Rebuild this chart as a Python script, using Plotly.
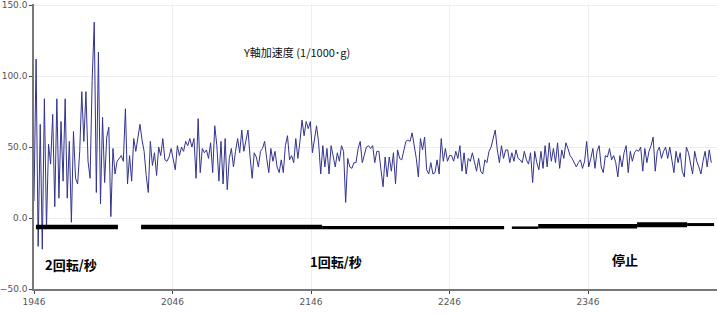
import numpy as np
import plotly.graph_objects as go

# ---- data -------------------------------------------------------------
X_START = 1946
X_STEP = 1.5

seg1 = [12, 112, -20, 66, -22, 84, -7, 52, 38, 73, 8, 84, 14, 68, 26, 84, 14, 54, -3, 61,
        28, 24, 47, 89, 54, 89, 40, 28, 97, 138, 18, 117, 10, 71, 25, 57, 64, 1, 49, 31,
        40, 42, 44, 40, 77, 24, 44, 26, 56, 47, 56, 66, 55, 47, 30, 18]
seg2 = [54, 37, 46, 30, 50, 44, 56, 41, 40, 43, 49, 42, 34, 51, 44, 50, 47, 54, 51, 56,
        50, 56, 28, 70, 32, 49, 46, 48, 42, 53, 32, 65, 51, 26, 54, 24, 56, 20, 42, 49,
        36, 47, 56, 46, 62, 47, 55, 62, 43, 28, 46, 43, 36, 47, 49]
seg3 = [54, 42, 32, 49, 40, 47, 36, 32, 41, 32, 51, 58, 41, 44, 39, 56, 42, 54, 69, 58,
        68, 63, 68, 46, 56, 65, 53, 31, 51, 36, 49, 31, 51, 42, 36, 46, 40, 51, 47, 11,
        42, 36, 35, 39, 39, 49, 54, 39, 44, 50, 51, 49, 51, 39, 47]
seg4 = [47, 34, 22, 43, 29, 43, 33, 46, 24, 48, 42, 41, 47, 54, 55, 54, 60, 51, 42, 29,
        56, 48, 57, 34, 31, 39, 31, 32, 41, 31, 56, 40, 49, 40, 44, 44, 40, 47, 42, 51,
        33, 46, 31, 42, 40, 46, 39, 33, 42, 33, 31, 41, 39, 47, 50]
seg5 = [56, 62, 48, 39, 51, 42, 48, 48, 39, 46, 40, 48, 42, 41, 39, 47, 41, 38, 46, 25,
        47, 39, 34, 47, 35, 51, 36, 53, 40, 49, 39, 53, 35, 48, 42, 53, 49, 44, 42, 39,
        36, 39, 41, 35, 40, 54, 36, 42, 49, 35, 47, 51, 36, 32, 44]
seg6 = [43, 49, 41, 44, 39, 29, 44, 36, 46, 51, 32, 47, 40, 46, 48, 47, 50, 33, 49, 39,
        47, 51, 57, 33, 47, 50, 42, 47, 50, 42, 50, 42, 32, 47, 39, 46, 33, 29, 50, 46,
        39, 31, 47, 40, 36, 31, 40, 47, 36, 48, 39]
y_accel = seg1 + seg2 + seg3 + seg4 + seg5 + seg6

# hand-drawn phase bars (start, end, level, stroke)
bar_x0 = [1947.4, 2023.3, 2154.0, 2291.0, 2310.0, 2381.4, 2417.5]
bar_x1 = [2006.6, 2154.0, 2285.4, 2310.0, 2381.4, 2417.5, 2437.0]
bar_y = [-6.3, -6.3, -6.8, -6.8, -5.8, -4.8, -4.6]
bar_w = [4.5, 4.5, 3.2, 2.5, 4.5, 5.0, 3.0]

phase_labels = ["2回転/秒", "1回転/秒", "停止"]
phase_x = [1972.7, 2164.0, 2372.7]
phase_y = [-33.0, -30.5, -29.0]

x_ticks = [1946, 2046, 2146, 2246, 2346, 2446]
y_ticks = [-50, 0, 50, 100, 150]
title_text = "Y軸加速度 (1/1000･g)"

# ---- figure -----------------------------------------------------------
x_vals = X_START + X_STEP * np.arange(len(y_accel))

fig = go.Figure()
fig.add_trace(go.Scatter(x=x_vals, y=y_accel, mode="lines",
                         line=dict(color="#33338f", width=1), hoverinfo="skip"))
for x0, x1, yy, w in zip(bar_x0, bar_x1, bar_y, bar_w):
    fig.add_trace(go.Scatter(x=[x0, x1], y=[yy, yy], mode="lines",
                             line=dict(color="black", width=w), hoverinfo="skip"))

for t, xx, yy in zip(phase_labels, phase_x, phase_y):
    fig.add_annotation(x=xx, y=yy, text="<b>" + t + "</b>", showarrow=False,
                       font=dict(family="Noto Sans CJK JP", size=13, color="black"))

fig.add_annotation(xref="paper", yref="paper", x=(296 - 34) / 683, y=1 - 38 / 287,
                   text=title_text, showarrow=False,
                   font=dict(family="Noto Sans CJK JP", size=11, color="#111"))

fig.update_layout(
    width=717, height=314,
    margin=dict(l=34, r=0, t=2, b=25),
    paper_bgcolor="white", plot_bgcolor="white",
    showlegend=False,
    font=dict(family="DejaVu Sans", size=9, color="#555"),
)
fig.update_xaxes(range=[1946, 2439.1], tickvals=x_ticks, ticks="outside", ticklen=3,
                 tickcolor="#444", showline=True, linecolor="#777", linewidth=1.5,
                 showgrid=True, gridcolor="#eeeeee", zeroline=False,
                 ticklabeloverflow="allow")
fig.update_yaxes(range=[-50, 150.8], tickvals=y_ticks, tickformat=".1f", ticks="outside",
                 ticklen=3, tickcolor="#444", showline=True, linecolor="#777", linewidth=1.5,
                 showgrid=True, gridcolor="#eeeeee", zeroline=False,
                 ticklabeloverflow="allow")

fig.write_html("out.html")
